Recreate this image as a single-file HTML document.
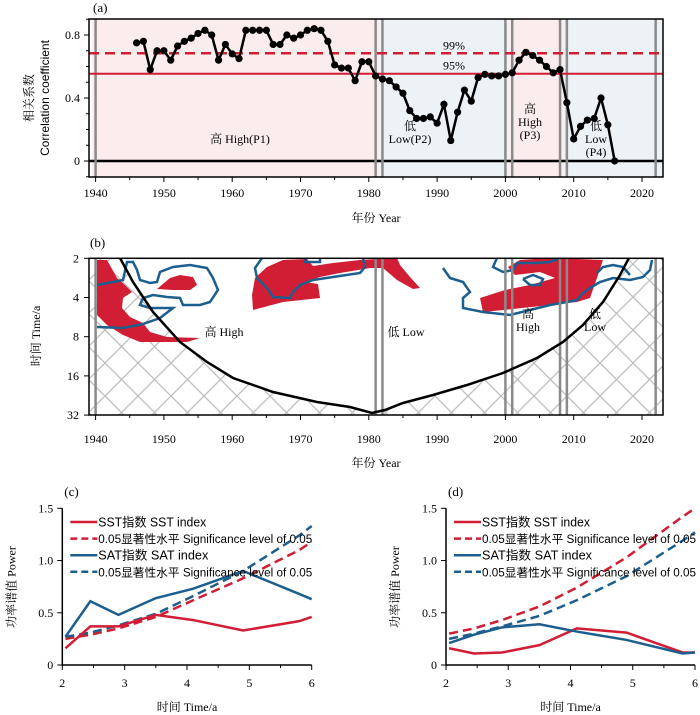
<!DOCTYPE html>
<html><head><meta charset="utf-8">
<style>
body{margin:0;background:#fff;}
svg{display:block;font-family:"Liberation Serif","Noto Serif CJK SC",serif;}
.sans{font-family:"Liberation Sans","Noto Sans CJK SC",sans-serif;}
</style></head>
<body>
<svg id="fig" width="700" height="715" viewBox="0 0 700 715" xmlns="http://www.w3.org/2000/svg">
<defs>
<pattern id="hatch" width="33" height="33" patternUnits="userSpaceOnUse" x="6" y="0">
<path d="M0,0 L33,33 M33,0 L0,33" stroke="#bdbdbd" stroke-width="1.3" fill="none"/>
</pattern>
<clipPath id="clipB"><rect x="89" y="258" width="574" height="157"/></clipPath>
<clipPath id="clipA"><rect x="89" y="19" width="574" height="158"/></clipPath>
</defs>
<g id="pa"></g>
<g id="pb"></g>
<g id="pc"></g>
<g id="pd"></g>
</svg>
<script>
// ---------- Panel (a) data ----------
const corrYears = [1946,1947,1948,1949,1950,1951,1952,1953,1954,1955,1956,1957,1958,1959,1960,1961,1962,1963,1964,1965,1966,1967,1968,1969,1970,1971,1972,1973,1974,1975,1976,1977,1978,1979,1980,1981,1982,1983,1984,1985,1986,1987,1988,1989,1990,1991,1992,1993,1994,1995,1996,1997,1998,1999,2000,2001,2002,2003,2004,2005,2006,2007,2008,2009,2010,2011,2012,2013,2014,2015,2016];
const corrValues = [0.75,0.76,0.58,0.70,0.70,0.64,0.73,0.76,0.78,0.81,0.83,0.80,0.64,0.74,0.68,0.65,0.83,0.83,0.83,0.83,0.74,0.74,0.80,0.78,0.80,0.83,0.84,0.83,0.76,0.61,0.59,0.59,0.51,0.63,0.63,0.54,0.52,0.51,0.47,0.43,0.32,0.27,0.27,0.28,0.24,0.36,0.13,0.31,0.45,0.38,0.53,0.55,0.54,0.54,0.55,0.56,0.64,0.69,0.67,0.64,0.60,0.56,0.58,0.37,0.14,0.22,0.26,0.27,0.40,0.23,0.00];
const sig99 = 0.684, sig95 = 0.554;
const yTicksA = [0, 0.4, 0.8];
const yearTicks = [1940,1950,1960,1970,1980,1990,2000,2010,2020];
const breakYears = [1940,1981,1982,2000,2001,2008,2009,2022];
const periodSpans = [[1939.5,1981.5,'high'],[1981.5,2000.5,'low'],[2000.5,2008.5,'high'],[2008.5,2023.0,'low']];

// ---------- Panel (b) ----------
const periodTicks = [2,4,8,16,32];
const periodTickLabels = ['2','4','8','16','32'];

// ---------- Panels (c),(d) data ----------
const specPeriods = [2.05,2.45,2.9,3.5,4.1,4.9,5.8,6.0];
const cSST = [0.16,0.37,0.37,0.48,0.43,0.33,0.42,0.46];
const cSAT = [0.27,0.61,0.48,0.64,0.73,0.90,0.68,0.63];
const cSSTsig = [0.25,0.29,0.35,0.46,0.62,0.83,1.10,1.18];
const cSATsig = [0.27,0.31,0.38,0.49,0.66,0.90,1.24,1.33];
const dSST = [0.16,0.11,0.12,0.19,0.35,0.31,0.12,0.12];
const dSAT = [0.21,0.29,0.36,0.39,0.32,0.24,0.11,0.12];
const dSSTsig = [0.30,0.35,0.43,0.56,0.74,1.03,1.42,1.50];
const dSATsig = [0.25,0.30,0.37,0.47,0.62,0.85,1.19,1.27];
const powerTicks = [0,0.5,1.0,1.5];
const powerTickLabels = ['0','0.5','1.0','1.5'];
const specXTicks = [2,3,4,5,6];

const NS='http://www.w3.org/2000/svg';
function mk(tag, attrs, parent, text){
  const e=document.createElementNS(NS,tag);
  for(const k in attrs) e.setAttribute(k,attrs[k]);
  if(text!==undefined) e.textContent=text;
  parent.appendChild(e); return e;
}
const RED='#d21e34', BLUE='#1c5f8f', GRAY='#8a8a8a';

const xYear = y => 95.6 + (y-1940)*6.83;
const yCorr = v => 161 - v*157.5;
const yPer = p => 258.3 + Math.log2(p/2)*39.2;

// ========== Panel A ==========
(function(){
  const g=document.getElementById('pa');
  let t=mk('text',{x:93,y:12,'font-size':13},g,'(a)');
  
  
  periodSpans.forEach(s=>{
    const r=mk('rect',{x:xYear(s[0]),y:19,width:xYear(s[1])-xYear(s[0]),height:158,fill:s[2]==='high'?'#fbeced':'#edf2f7','clip-path':'url(#clipA)'},g);
    
    
  });
  let l=mk('line',{x1:89,x2:663,y1:yCorr(0),y2:yCorr(0),stroke:'#000','stroke-width':2.5},g);
   
  breakYears.forEach(y=>{
    const b=mk('line',{x1:xYear(y),x2:xYear(y),y1:19,y2:177,stroke:GRAY,'stroke-width':2.5},g);
    
    
  });
  l=mk('line',{x1:89,x2:663,y1:yCorr(sig99),y2:yCorr(sig99),stroke:RED,'stroke-width':2.5,'stroke-dasharray':'10,6'},g);
   
  l=mk('line',{x1:89,x2:663,y1:yCorr(sig95),y2:yCorr(sig95),stroke:RED,'stroke-width':2},g);
   
  t=mk('text',{x:454,y:yCorr(sig99)-4,'font-size':12,'text-anchor':'middle'},g,'99%');
   
  t=mk('text',{x:454,y:yCorr(sig95)-4,'font-size':12,'text-anchor':'middle'},g,'95%');
   
  const pts=corrYears.map((y,i)=>xYear(y)+','+yCorr(corrValues[i])).join(' ');
  l=mk('polyline',{points:pts,fill:'none',stroke:'#000','stroke-width':2.5},g);
   
  corrYears.forEach((y,i)=>{
    const c=mk('circle',{cx:xYear(y),cy:yCorr(corrValues[i]),r:3.6,fill:'#000'},g);
    
    
  });
  const f=mk('rect',{x:89,y:19,width:574,height:158,fill:'none',stroke:'#000','stroke-width':1.5},g);
   
  for(let v=-0.1; v<=0.91; v+=0.1){
    const major=yTicksA.some(m=>Math.abs(m-v)<1e-6);
    mk('line',{x1:89-(major?5:3),x2:89,y1:yCorr(v),y2:yCorr(v),stroke:'#000','stroke-width':1},g);
  }
  yTicksA.forEach(v=>{
    const tt=mk('text',{x:80,y:yCorr(v)+4,'font-size':12,'text-anchor':'end'},g,v===0?'0':v.toFixed(1));
     
  });
  for(let y=1940;y<=2020;y+=5){
    mk('line',{x1:xYear(y),x2:xYear(y),y1:177,y2:177+(y%10===0?5:3),stroke:'#000'},g);
  }
  yearTicks.forEach(y=>{
    const tt=mk('text',{x:xYear(y),y:197,'font-size':12,'text-anchor':'middle'},g,String(y));
     
  });
  t=mk('text',{x:376,y:222,'font-size':12,'text-anchor':'middle'},g,'年份 Year');
   
  t=mk('text',{x:0,y:0,'font-size':12,'text-anchor':'middle',transform:'translate(33,98) rotate(-90)'},g,'相关系数');
   
  t=mk('text',{x:0,y:0,'font-size':12,'text-anchor':'middle',class:'sans',transform:'translate(49,98) rotate(-90)'},g,'Correlation coefficient');
   
  const labs=[[240,143,['高 High(P1)']],[410,130,['低','Low(P2)']],[530,113,['高','High','(P3)']],[596,130,['低','Low','(P4)']]];
  labs.forEach(a=>{
    a[2].forEach((s,i)=>{
      const tt=mk('text',{x:a[0],y:a[1]+i*13,'font-size':12,'text-anchor':'middle'},g,s);
       
    });
  });
})();

// ========== Panel B ==========
(function(){
  const g=document.getElementById('pb');
  let t=mk('text',{x:90,y:247,'font-size':13},g,'(b)');
   
  const inner=mk('g',{'clip-path':'url(#clipB)'},g);
  const coiPts=[[120,258],[133,282],[153,312],[180,342],[207,362],[233,378],[273,392],[317,402],[350,407],[372,413],[385,410],[403,403],[433,395],[467,385],[503,373],[537,358],[563,342],[583,325],[603,302],[620,275],[630,256]];
  let hp='M89,258 '+coiPts.map(p=>'L'+p[0]+','+p[1]).join(' ')+' L663,258 L663,415 L89,415 Z';
  let e=mk('path',{d:hp,fill:'url(#hatch)'},inner);
   
  const reds=[
    [[97,260],[107,260],[117,278],[125,285],[132,292],[123,298],[122,308],[130,317],[143,323],[150,332],[167,337],[200,338],[187,342],[140,342],[123,335],[107,325],[97,315]],
    [[157,289],[170,278],[180,275],[193,277],[197,285],[190,290],[173,290]],
    [[255,278],[267,267],[283,260],[307,259],[313,266],[333,263],[360,260],[397,258],[400,265],[410,277],[420,288],[413,289],[397,280],[383,268],[370,268],[340,273],[320,277],[305,282],[318,284],[320,298],[283,302],[253,310],[252,295]],
    [[508,267],[520,260],[550,258],[603,260],[598,275],[590,298],[577,302],[550,305],[503,310],[483,312],[480,298],[505,290],[530,285],[555,278],[540,272],[515,275]]
  ];
  reds.forEach((p,i)=>{
    const r=mk('polygon',{points:p.map(q=>q.join(',')).join(' '),fill:RED},inner);
     
  });
  const blues=[
    [[97,285],[123,280],[127,262],[133,262],[137,270],[140,280],[150,283],[157,282],[160,272],[173,267],[190,265],[207,268],[213,278],[218,290],[210,302],[200,305],[183,305],[180,298],[167,297],[153,295],[143,298],[140,305],[150,308],[173,308],[160,318],[143,324],[123,328],[97,327]],
    [[262,258],[255,268],[257,278],[267,288],[273,297],[290,298],[293,292],[300,285],[313,280],[333,277],[360,273],[365,267],[363,258]],
    [[305,258],[305,262],[320,262],[320,258]],
    [[443,268],[450,278],[463,282],[470,292],[463,298],[463,308],[483,312],[510,315],[530,310],[550,305],[567,302],[577,300],[583,293],[590,288],[600,282],[613,278],[630,280],[643,277],[650,270],[652,260]],
    [[497,258],[493,267],[503,272],[513,270],[517,263],[537,263],[550,262],[560,258]],
    [[597,273],[603,267],[613,265],[623,267],[630,275]],
    [[523,279],[533,275],[543,279],[540,285],[530,285],[523,279]]
  ];
  blues.forEach((p,i)=>{
    const b=mk('polyline',{points:p.map(q=>q.join(',')).join(' '),fill:'none',stroke:BLUE,'stroke-width':2.5},inner);
     
  });
  breakYears.forEach(y=>{
    const b=mk('line',{x1:xYear(y),x2:xYear(y),y1:258,y2:415,stroke:GRAY,'stroke-width':2.5},inner);
     
  });
  e=mk('polyline',{points:coiPts.map(q=>q.join(',')).join(' '),fill:'none',stroke:'#000','stroke-width':2.5},inner);
   
  const f=mk('rect',{x:89,y:258.3,width:574,height:156.7,fill:'none',stroke:'#000','stroke-width':1.5},g);
   
  periodTicks.forEach((p,i)=>{
    mk('line',{x1:84,x2:89,y1:yPer(p),y2:yPer(p),stroke:'#000'},g);
    const tt=mk('text',{x:79,y:yPer(p)+4,'font-size':12,'text-anchor':'end'},g,periodTickLabels[i]);
     
  });
  for(let y=1940;y<=2020;y+=5) mk('line',{x1:xYear(y),x2:xYear(y),y1:415,y2:415+(y%10===0?5:3),stroke:'#000'},g);
  yearTicks.forEach(y=>{
    const tt=mk('text',{x:xYear(y),y:443,'font-size':12,'text-anchor':'middle'},g,String(y));
     
  });
  t=mk('text',{x:376,y:467,'font-size':12,'text-anchor':'middle'},g,'年份 Year');
   
  t=mk('text',{x:0,y:0,'font-size':12,'text-anchor':'middle',transform:'translate(40,336) rotate(-90)'},g,'时间 Time/a');
   
  const labs=[[224,336,['高 High']],[406,336,['低 Low']],[528,318,['高','High']],[595,318,['低','Low']]];
  labs.forEach(a=>a[2].forEach((s,i)=>{
    const tt=mk('text',{x:a[0],y:a[1]+i*13,'font-size':12,'text-anchor':'middle'},g,s);
     
  }));
})();

// ========== Panels C, D ==========
function spectrum(gid,label,left,right,sst,sat,sstSig,satSig){
  const g=document.getElementById(gid);
  const top=508.3,bottom=665;
  const xs=p=>left+(p-2)*(right-left)/4;
  const ys=v=>bottom-v*(bottom-top)/1.5;
  let t=mk('text',{x:left+2,y:496,'font-size':13},g,label);
   
  const series=[[sstSig,RED,true,'sst-significance-line'],[satSig,BLUE,true,'sat-significance-line'],[sst,RED,false,'sst-index-line'],[sat,BLUE,false,'sat-index-line']];
  series.forEach(s=>{
    const pts=specPeriods.map((p,i)=>xs(p)+','+ys(s[0][i])).join(' ');
    const a={points:pts,fill:'none',stroke:s[1],'stroke-width':2.5};
    if(s[2]) a['stroke-dasharray']='9,5';
    const l=mk('polyline',a,g);
     
  });
  mk('line',{x1:left,x2:left,y1:top,y2:bottom,stroke:'#000','stroke-width':1.5},g);
  mk('line',{x1:left,x2:right,y1:bottom,y2:bottom,stroke:'#000','stroke-width':1.5},g);
  powerTicks.forEach((v,i)=>{
    mk('line',{x1:left-5,x2:left,y1:ys(v),y2:ys(v),stroke:'#000'},g);
    const tt=mk('text',{x:left-9,y:ys(v)+4,'font-size':12,'text-anchor':'end'},g,powerTickLabels[i]);
     
  });
  for(let p=2;p<=6.01;p+=0.5) mk('line',{x1:xs(p),x2:xs(p),y1:bottom,y2:bottom+(p%1===0?5:3),stroke:'#000'},g);
  specXTicks.forEach(p=>{
    const tt=mk('text',{x:xs(p),y:687,'font-size':12,'text-anchor':'middle'},g,String(p));
     
  });
  t=mk('text',{x:(left+right)/2,y:711,'font-size':12,'text-anchor':'middle'},g,'时间 Time/a');
   
  t=mk('text',{x:0,y:0,'font-size':12,'text-anchor':'middle',transform:'translate('+(left-47)+',587) rotate(-90)'},g,'功率谱值 Power');
   
  const leg=[[RED,false,'SST指数 SST index',108],[RED,true,'0.05显著性水平 Significance level of 0.05',214],[BLUE,false,'SAT指数 SAT index',110],[BLUE,true,'0.05显著性水平 Significance level of 0.05',214]];
  leg.forEach((L,i)=>{
    const y=522+i*16.6;
    const a={x1:left+8,x2:left+35,y1:y,y2:y,stroke:L[0],'stroke-width':2.5};
    if(L[1]) a['stroke-dasharray']='7,4';
    const ln=mk('line',a,g);
     
    const tt=mk('text',{x:left+36,y:y+4.5,'font-size':L[1]?11.5:12.5,textLength:L[3],lengthAdjust:'spacingAndGlyphs',class:'sans'},g,L[2]);
     
  });
}
spectrum('pc','(c)',62.3,311.7,cSST,cSAT,cSSTsig,cSATsig);
spectrum('pd','(d)',446,695,dSST,dSAT,dSSTsig,dSATsig);
</script>
</body></html>
